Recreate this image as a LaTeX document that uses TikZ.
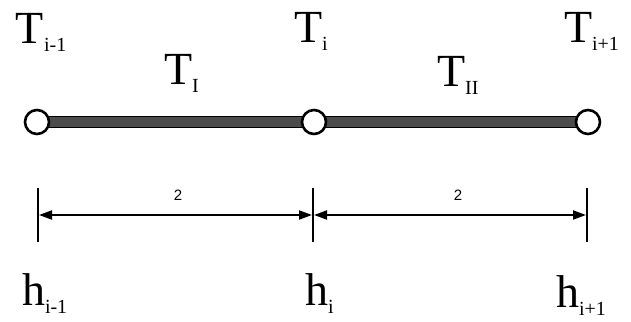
\documentclass[tikz,border=0pt]{standalone}
\usepackage{fontspec}
\setmainfont{Liberation Serif}
\newfontfamily\digitfont{Liberation Sans}
\usetikzlibrary{arrows.meta}
\newcommand{\bigsym}[1]{{\fontsize{46}{46}\selectfont #1}}
\newcommand{\lowsub}[1]{\raisebox{-8pt}{\fontsize{20}{20}\selectfont #1}}
\tikzset{
  lbl/.style={anchor=base west, inner sep=0pt, outer sep=0pt},
  nodecirc/.style={circle, draw=black, line width=2.6pt, fill=white, minimum size=24pt, inner sep=0pt},
  bar/.style={draw=black, line width=1.4pt, fill=black!70},
  tick/.style={line width=2.4pt},
  dimarrow/.style={line width=2pt, {Triangle[length=13pt,width=9pt]}-{Triangle[length=13pt,width=9pt]}, shorten <=1pt, shorten >=1pt},
  dimlbl/.style={anchor=base, inner sep=0pt, font=\digitfont\fontsize{15}{15}\selectfont}
}
\begin{document}
\begin{tikzpicture}[x=1pt,y=-1pt]
\useasboundingbox (0,0) rectangle (631,321);
% bar
\fill[bar] (37,116.5) rectangle (588,127.5);
% circles
\node[nodecirc] (n1) at (37,122) {};
\node[nodecirc] (n2) at (314,122) {};
\node[nodecirc] (n3) at (588,122) {};
% labels T
\node[lbl] (ta) at (16,44) {\bigsym{T}\lowsub{i-1}};
\node[lbl] (tb) at (294,43) {\bigsym{T}\lowsub{i}};
\node[lbl] (tc) at (564,43) {\bigsym{T}\lowsub{i+1}};
\node[lbl] (tI) at (164,84) {\bigsym{T}\lowsub{I}};
\node[lbl] (tII) at (437,86) {\bigsym{T}\lowsub{II}};
% ticks
\coordinate (a1) at (38,188); \coordinate (a2) at (38,242);
\coordinate (b1) at (313,188); \coordinate (b2) at (313,242);
\coordinate (c1) at (587,188); \coordinate (c2) at (587,242);
\draw[tick] (a1) -- (a2);
\draw[tick] (b1) -- (b2);
\draw[tick] (c1) -- (c2);
\coordinate (am) at (38,215);
\coordinate (bm) at (313,215);
\coordinate (cm) at (587,215);
\draw[dimarrow] (am) -- (bm);
\draw[dimarrow] (bm) -- (cm);
\node[dimlbl] (d1) at (178,200) {2};
\node[dimlbl] (d2) at (458,200) {2};
% labels h
\node[lbl] (ha) at (22,305) {\bigsym{h}\lowsub{i-1}};
\node[lbl] (hb) at (305,305) {\bigsym{h}\lowsub{i}};
\node[lbl] (hc) at (556,307) {\bigsym{h}\lowsub{i+1}};
\end{tikzpicture}
\end{document}
